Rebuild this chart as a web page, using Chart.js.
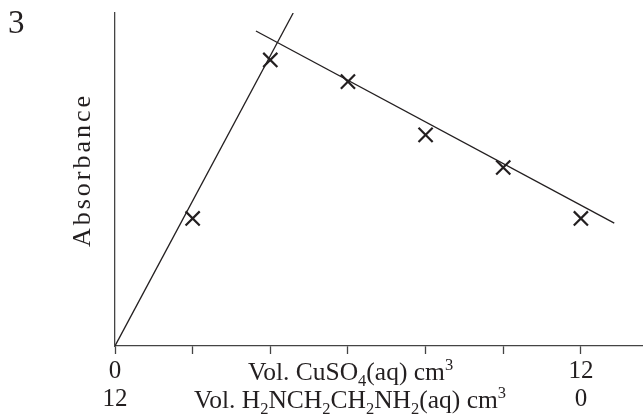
<!DOCTYPE html>
<html>
<head>
<meta charset="utf-8">
<script src="https://cdn.jsdelivr.net/npm/chart.js@4"></script>
<style>
  body { margin: 0; background: #fff; }
  #wrap { width: 643px; height: 414px; }
</style>
</head>
<body>
<div id="wrap"><canvas id="absChart" width="643" height="414"></canvas></div>
<script>
// measured points (x = vol CuSO4 / cm3, y = absorbance, arbitrary units)
const volCuSO4 = [2, 4, 6, 8, 10, 12];
const absorbance = [0.383, 0.859, 0.794, 0.634, 0.536, 0.383];

// hand-drawn best fit lines, end points
const riseLineX = [0, 4.59];
const riseLineY = [0, 1.0];
const fallLineX = [3.63, 12.86];
const fallLineY = [0.946, 0.369];

// tick labels: top row CuSO4, bottom row diamine
const cuTicks = { 0: '0', 12: '12' };
const amineTicks = { 0: '12', 12: '0' };

const ink = '#231f20';
const serif = '"Liberation Serif", "Times New Roman", serif';

const cuTitle = [['Vol. CuSO', 'n'], ['4', 'sub'], ['(aq) cm', 'n'], ['3', 'sup']];
const amineTitle = [['Vol. H', 'n'], ['2', 'sub'], ['NCH', 'n'], ['2', 'sub'], ['CH', 'n'], ['2', 'sub'],
  ['NH', 'n'], ['2', 'sub'], ['(aq) cm', 'n'], ['3', 'sup']];

function drawRich(ctx, parts, x, y) {
  ctx.textBaseline = 'alphabetic';
  ctx.textAlign = 'left';
  for (const [txt, kind] of parts) {
    let dy = 0;
    if (kind === 'n') ctx.font = '25.5px ' + serif;
    else { ctx.font = '16.5px ' + serif; dy = kind === 'sub' ? 6 : -10; }
    ctx.fillText(txt, x, y + dy);
    x += ctx.measureText(txt).width;
  }
}

const labels = {
  id: 'labels',
  afterDraw(chart) {
    const ctx = chart.ctx;
    ctx.save();
    ctx.fillStyle = ink;
    ctx.font = '33px ' + serif;
    ctx.textBaseline = 'alphabetic';
    ctx.fillText('3', 8, 33);

    drawRich(ctx, cuTitle, 248, 380);
    drawRich(ctx, amineTitle, 194, 408);

    ctx.translate(90, 170);
    ctx.rotate(-Math.PI / 2);
    ctx.font = '26px ' + serif;
    ctx.letterSpacing = '3px';
    ctx.textAlign = 'center';
    ctx.fillText('Absorbance', 0, 0);
    ctx.restore();
  }
};

new Chart(document.getElementById('absChart'), {
  type: 'scatter',
  data: {
    datasets: [
      {
        data: volCuSO4.map((v, i) => ({ x: v, y: absorbance[i] })),
        pointStyle: 'crossRot', pointRadius: 10, pointBorderWidth: 2.2,
        borderColor: ink, backgroundColor: ink, showLine: false
      },
      {
        data: riseLineX.map((v, i) => ({ x: v, y: riseLineY[i] })),
        showLine: true, borderColor: ink, borderWidth: 1.3, pointRadius: 0
      },
      {
        data: fallLineX.map((v, i) => ({ x: v, y: fallLineY[i] })),
        showLine: true, borderColor: ink, borderWidth: 1.3, pointRadius: 0
      }
    ]
  },
  options: {
    responsive: false,
    animation: false,
    layout: { autoPadding: false, padding: { top: 13, right: 0, left: 0, bottom: 0 } },
    plugins: { legend: { display: false }, tooltip: { enabled: false } },
    scales: {
      x: {
        type: 'linear', min: 0, max: 13.6,
        afterFit: s => { s.height = 68; s.paddingRight = 0; s.paddingLeft = 0; },
        afterBuildTicks: s => { s.ticks = [0, 2, 4, 6, 8, 10, 12].map(v => ({ value: v })); },
        border: { color: '#444', width: 1.3 },
        grid: { drawOnChartArea: false, tickLength: 8, tickColor: '#444', tickWidth: 1.3 },
        ticks: {
          maxRotation: 0, padding: 3, color: ink,
          font: { family: serif, size: 25, lineHeight: 1.12 },
          callback: v => (v in cuTicks ? [cuTicks[v], amineTicks[v]] : '')
        }
      },
      y: {
        min: 0, max: 1,
        afterFit: s => { s.width = 115; },
        border: { color: '#444', width: 1.3 },
        grid: { display: false },
        ticks: { display: false }
      }
    }
  },
  plugins: [labels]
});
</script>
</body>
</html>
